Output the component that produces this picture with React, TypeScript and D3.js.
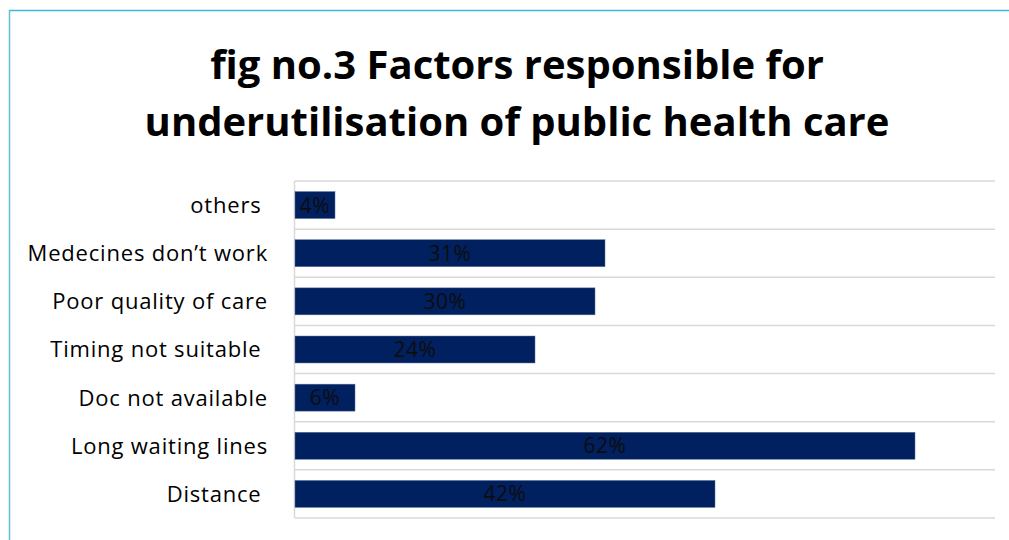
import React from "react";
import * as d3 from "d3";

const categories = [
  "others ",
  "Medecines don\u2019t work",
  "Poor quality of care",
  "Timing not suitable ",
  "Doc not available",
  "Long waiting lines",
  "Distance ",
];
const values = [4, 31, 30, 24, 6, 62, 42];
const titleLines = ["fig no.3 Factors responsible for", "underutilisation of public health care"];

const W = 1009;
const H = 540;

export default function App() {
  const x = d3.scaleLinear().domain([0, 70]).range([295, 995]);
  const y = d3
    .scaleBand<string>()
    .domain(categories)
    .range([181, 518])
    .paddingInner(0.44)
    .paddingOuter(0.22);
  const step = y.step();
  const gridYs = d3.range(categories.length + 1).map((i) => 181 + i * step);
  const font = "'Open Sans', sans-serif";

  return (
    <div style={{ position: "absolute", left: 0, top: 0 }}>
      <svg width={W} height={H} style={{ display: "block", background: "#fff", fontVariantLigatures: "none" }}>
        <line x1={9} y1={10.5} x2={W} y2={10.5} stroke="#41B6D2" strokeWidth={1.5} />
        <line x1={9.5} y1={10} x2={9.5} y2={H} stroke="#5FBFD8" strokeWidth={1.5} />
        {titleLines.map((t, i) => (
          <text
            key={i}
            x={517}
            y={79 + i * 57}
            textAnchor="middle"
            fontFamily={font}
            fontWeight={700}
            fontSize={40}
            fill="#000"
          >
            {t}
          </text>
        ))}
        {gridYs.map((gy, i) => (
          <line key={i} x1={295} x2={995} y1={gy} y2={gy} stroke="#d9d9d9" strokeWidth={1.5} />
        ))}
        <line x1={294.5} x2={294.5} y1={181} y2={518} stroke="#d9d9d9" strokeWidth={1.5} />
        {categories.map((c, i) => (
          <g key={c}>
            <rect
              x={x(0)}
              y={y(c)!}
              width={x(values[i]) - x(0)}
              height={y.bandwidth()}
              fill="#002060"
              stroke="#5a7099"
              strokeWidth={0.5}
            />
            <text
              x={(x(0) + x(values[i])) / 2}
              y={y(c)! + y.bandwidth() / 2}
              dy="0.36em"
              textAnchor="middle"
              fontFamily={font}
              fontSize={21}
              letterSpacing={0.5}
              fill="#0d0d0d"
            >
              {values[i]}%
            </text>
            <text
              x={268}
              y={y(c)! + y.bandwidth() / 2}
              dy="0.36em"
              textAnchor="end"
              fontFamily={font}
              fontSize={22}
              letterSpacing={0.8}
              fill="#000"
              style={{ whiteSpace: "pre" }}
            >
              {c}
            </text>
          </g>
        ))}
      </svg>
    </div>
  );
}
